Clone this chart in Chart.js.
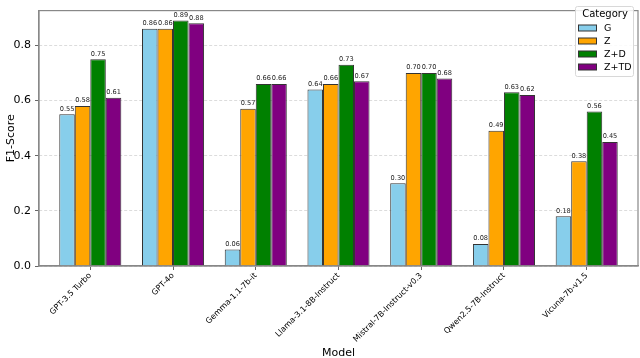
<!DOCTYPE html>
<html>
<head>
<meta charset="utf-8">
<script src="https://cdn.jsdelivr.net/npm/chart.js@4.4.1/dist/chart.umd.min.js"></script>
<style>
  html, body { margin: 0; padding: 0; background: #fff; }
</style>
</head>
<body>
<canvas id="c" width="640" height="358"></canvas>
<script>
// data
const models = ['GPT-3.5 Turbo', 'GPT-4o', 'Gemma-1.1-7b-it', 'Llama-3.1-8B-Instruct',
  'Mistral-7B-Instruct-v0.3', 'Qwen2.5-7B-Instruct', 'Vicuna-7b-v1.5']
const categories = ['G', 'Z', 'Z+D', 'Z+TD']
const scoresG = [0.55, 0.86, 0.06, 0.64, 0.30, 0.08, 0.18]
const scoresZ = [0.58, 0.86, 0.57, 0.66, 0.70, 0.49, 0.38]
const scoresZD = [0.75, 0.89, 0.66, 0.73, 0.70, 0.63, 0.56]
const scoresZTD = [0.61, 0.88, 0.66, 0.67, 0.68, 0.62, 0.45]
const yTicks = [0.0, 0.2, 0.4, 0.6, 0.8]

const colors = ['#87CEEB', '#FFA500', '#008000', '#800080']
const FONT = "'DejaVu Sans', sans-serif"

const series = [scoresG, scoresZ, scoresZD, scoresZTD]
const datasets = series.map((vals, i) => ({
  label: categories[i],
  data: vals.map((v, j) => ({ x: j, y: v })),
  backgroundColor: colors[i],
  borderColor: '#333',
  borderWidth: 1,
  categoryPercentage: 0.75,
  barPercentage: 1.0
}))

// frame, value labels and the inset legend
const extras = {
  id: 'extras',
  afterDatasetsDraw(chart) {
    const ctx = chart.ctx
    ctx.save()
    ctx.font = '6.6px ' + FONT
    ctx.fillStyle = '#222'
    ctx.textAlign = 'center'
    ctx.textBaseline = 'bottom'
    chart.data.datasets.forEach((ds, i) => {
      chart.getDatasetMeta(i).data.forEach((bar, j) => {
        ctx.fillText(ds.data[j].y.toFixed(2), bar.x, bar.y - 2)
      })
    })
    const a = chart.chartArea
    ctx.strokeStyle = '#888'
    ctx.lineWidth = 1.2
    ctx.strokeRect(a.left, a.top, a.right - a.left, a.bottom - a.top)

    // legend box
    const lx = 575, ly = 6, lw = 58, lh = 70
    ctx.fillStyle = 'rgba(255,255,255,0.85)'
    ctx.strokeStyle = '#d8d8d8'
    ctx.lineWidth = 1
    ctx.beginPath()
    ctx.roundRect(lx + 0.5, ly + 0.5, lw, lh, 2)
    ctx.fill()
    ctx.stroke()
    ctx.fillStyle = '#000'
    ctx.font = '10px ' + FONT
    ctx.textAlign = 'center'
    ctx.textBaseline = 'middle'
    ctx.fillText('Category', lx + lw / 2 + 1, ly + 8)
    ctx.font = '9.5px ' + FONT
    ctx.textAlign = 'left'
    categories.forEach((c, i) => {
      const y = ly + 22 + i * 13
      ctx.fillStyle = colors[i]
      ctx.fillRect(lx + 3.5, y - 3, 18, 6)
      ctx.strokeStyle = '#333'
      ctx.strokeRect(lx + 3.5, y - 3, 18, 6)
      ctx.fillStyle = '#000'
      ctx.fillText(c, lx + 29, y + 0.5)
    })
    ctx.restore()
  }
}

new Chart(document.getElementById('c'), {
  type: 'bar',
  data: { datasets },
  options: {
    responsive: false,
    animation: false,
    layout: { padding: { left: 5, top: 2, right: 2, bottom: 0 } },
    plugins: { legend: { display: false }, tooltip: { enabled: false } },
    scales: {
      x: {
        type: 'linear',
        offset: false,
        min: -0.62,
        max: 6.62,
        afterBuildTicks: (s) => { s.ticks = models.map((m, i) => ({ value: i })) },
        afterFit: (s) => { s.height = 92 },
        grid: { drawOnChartArea: false, offset: false, tickLength: 4, color: '#666' },
        border: { color: '#888', width: 1.2 },
        ticks: {
          autoSkip: false,
          minRotation: 45,
          maxRotation: 45,
          padding: 1,
          color: '#000',
          font: { family: FONT, size: 8 },
          callback: (v) => models[v]
        },
        title: { display: true, text: 'Model', color: '#000', font: { family: FONT, size: 11 }, padding: { top: 0, bottom: -2 } }
      },
      y: {
        min: 0,
        max: 0.926,
        afterBuildTicks: (s) => { s.ticks = yTicks.map(v => ({ value: v })) },
        afterFit: (s) => { s.width = 34 },
        grid: { color: '#dcdcdc', tickLength: 4, tickColor: '#666', tickBorderDash: [] },
        border: { color: '#888', width: 1.2, dash: [3, 2] },
        ticks: {
          padding: 4,
          color: '#000',
          font: { family: FONT, size: 11 },
          callback: (v) => v.toFixed(1)
        },
        title: { display: true, text: 'F1-Score', color: '#000', font: { family: FONT, size: 11 }, padding: 0 }
      }
    }
  },
  plugins: [extras]
})
</script>
</body>
</html>
